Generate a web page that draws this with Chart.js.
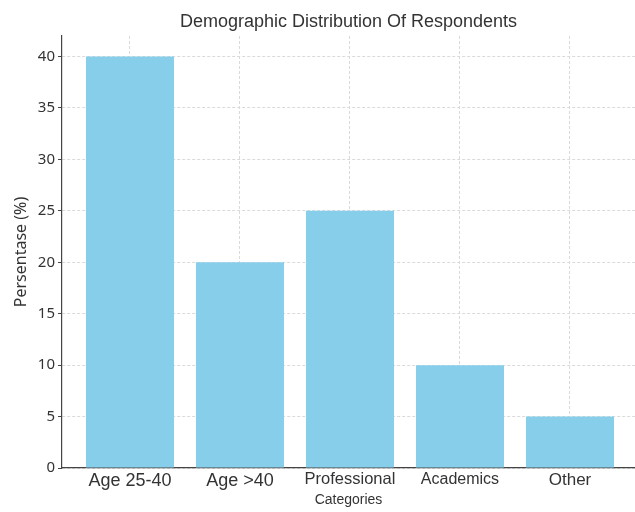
<!DOCTYPE html>
<html>
<head>
<meta charset="utf-8">
<script src="https://cdn.jsdelivr.net/npm/chart.js@4/dist/chart.umd.min.js"></script>
<style>
  html, body { margin: 0; padding: 0; background: #ffffff; }
  canvas { display: block; }
</style>
</head>
<body>
<canvas id="chart" width="635" height="512"></canvas>
<script>
// Survey breakdown by respondent group
const categories = ['Age 25-40', 'Age >40', 'Professional', 'Academics', 'Other'];
const percentages = [40, 20, 25, 10, 5];
const yTicks = [0, 5, 10, 15, 20, 25, 30, 35, 40];
const labelSizes = [18, 18, 16.5, 16, 17];

const points = categories.map((c, i) => ({ x: i, y: percentages[i] }));

new Chart(document.getElementById('chart'), {
  type: 'bar',
  data: {
    datasets: [{
      data: points,
      backgroundColor: '#87CEEB',
      borderWidth: 0,
      categoryPercentage: 1,
      barPercentage: 0.8
    }]
  },
  options: {
    responsive: false,
    animation: false,
    devicePixelRatio: 1,
    layout: { padding: { left: 0, right: 0, top: 0, bottom: 0 } },
    plugins: {
      legend: { display: false },
      tooltip: { enabled: false },
      title: {
        display: true,
        text: 'Demographic Distribution Of Respondents',
        fullSize: false,
        color: '#333333',
        font: { family: '"Liberation Sans", Arial, sans-serif', size: 18, weight: 'normal' },
        padding: { top: 11, bottom: 3.4 }
      }
    },
    scales: {
      x: {
        type: 'linear',
        offset: false,
        min: -0.618,
        max: 4.591,
        afterFit: (scale) => { scale.height = 44; },
        afterBuildTicks: (scale) => { scale.ticks = categories.map((c, i) => ({ value: i })); },
        grid: {
          offset: false,
          color: '#dadada',
          lineWidth: 1,
          drawTicks: false
        },
        border: { display: true, color: '#444444', width: 1.2, dash: [3, 2] },
        ticks: {
          autoSkip: false,
          maxRotation: 0,
          padding: 2,
          color: '#333333',
          font: (ctx) => ({ family: '"Liberation Sans", Arial, sans-serif', size: labelSizes[ctx.index] || 16 }),
          callback: (v) => categories[v]
        },
        title: {
          display: true,
          text: 'Categories',
          color: '#333333',
          font: { family: '"Liberation Sans", Arial, sans-serif', size: 14 },
          padding: { top: 0, bottom: 3.6 }
        }
      },
      y: {
        min: 0,
        max: 42,
        afterFit: (scale) => { scale.width = 62; },
        afterBuildTicks: (scale) => { scale.ticks = yTicks.map(v => ({ value: v })); },
        grid: {
          color: '#dadada',
          lineWidth: 1,
          drawTicks: true,
          tickLength: 4,
          tickColor: '#444444',
          tickBorderDash: [],
          tickWidth: 1
        },
        border: { display: true, color: '#444444', width: 1.2, dash: [3, 2] },
        ticks: {
          padding: 3,
          color: '#333333',
          font: { family: '"Noto Sans", sans-serif', size: 15 }
        },
        title: {
          display: true,
          text: 'Persentase (%)',
          color: '#333333',
          font: { family: '"Noto Sans", sans-serif', size: 16 },
          padding: { top: 12, bottom: 0 }
        }
      }
    }
  }
});
</script>
</body>
</html>
